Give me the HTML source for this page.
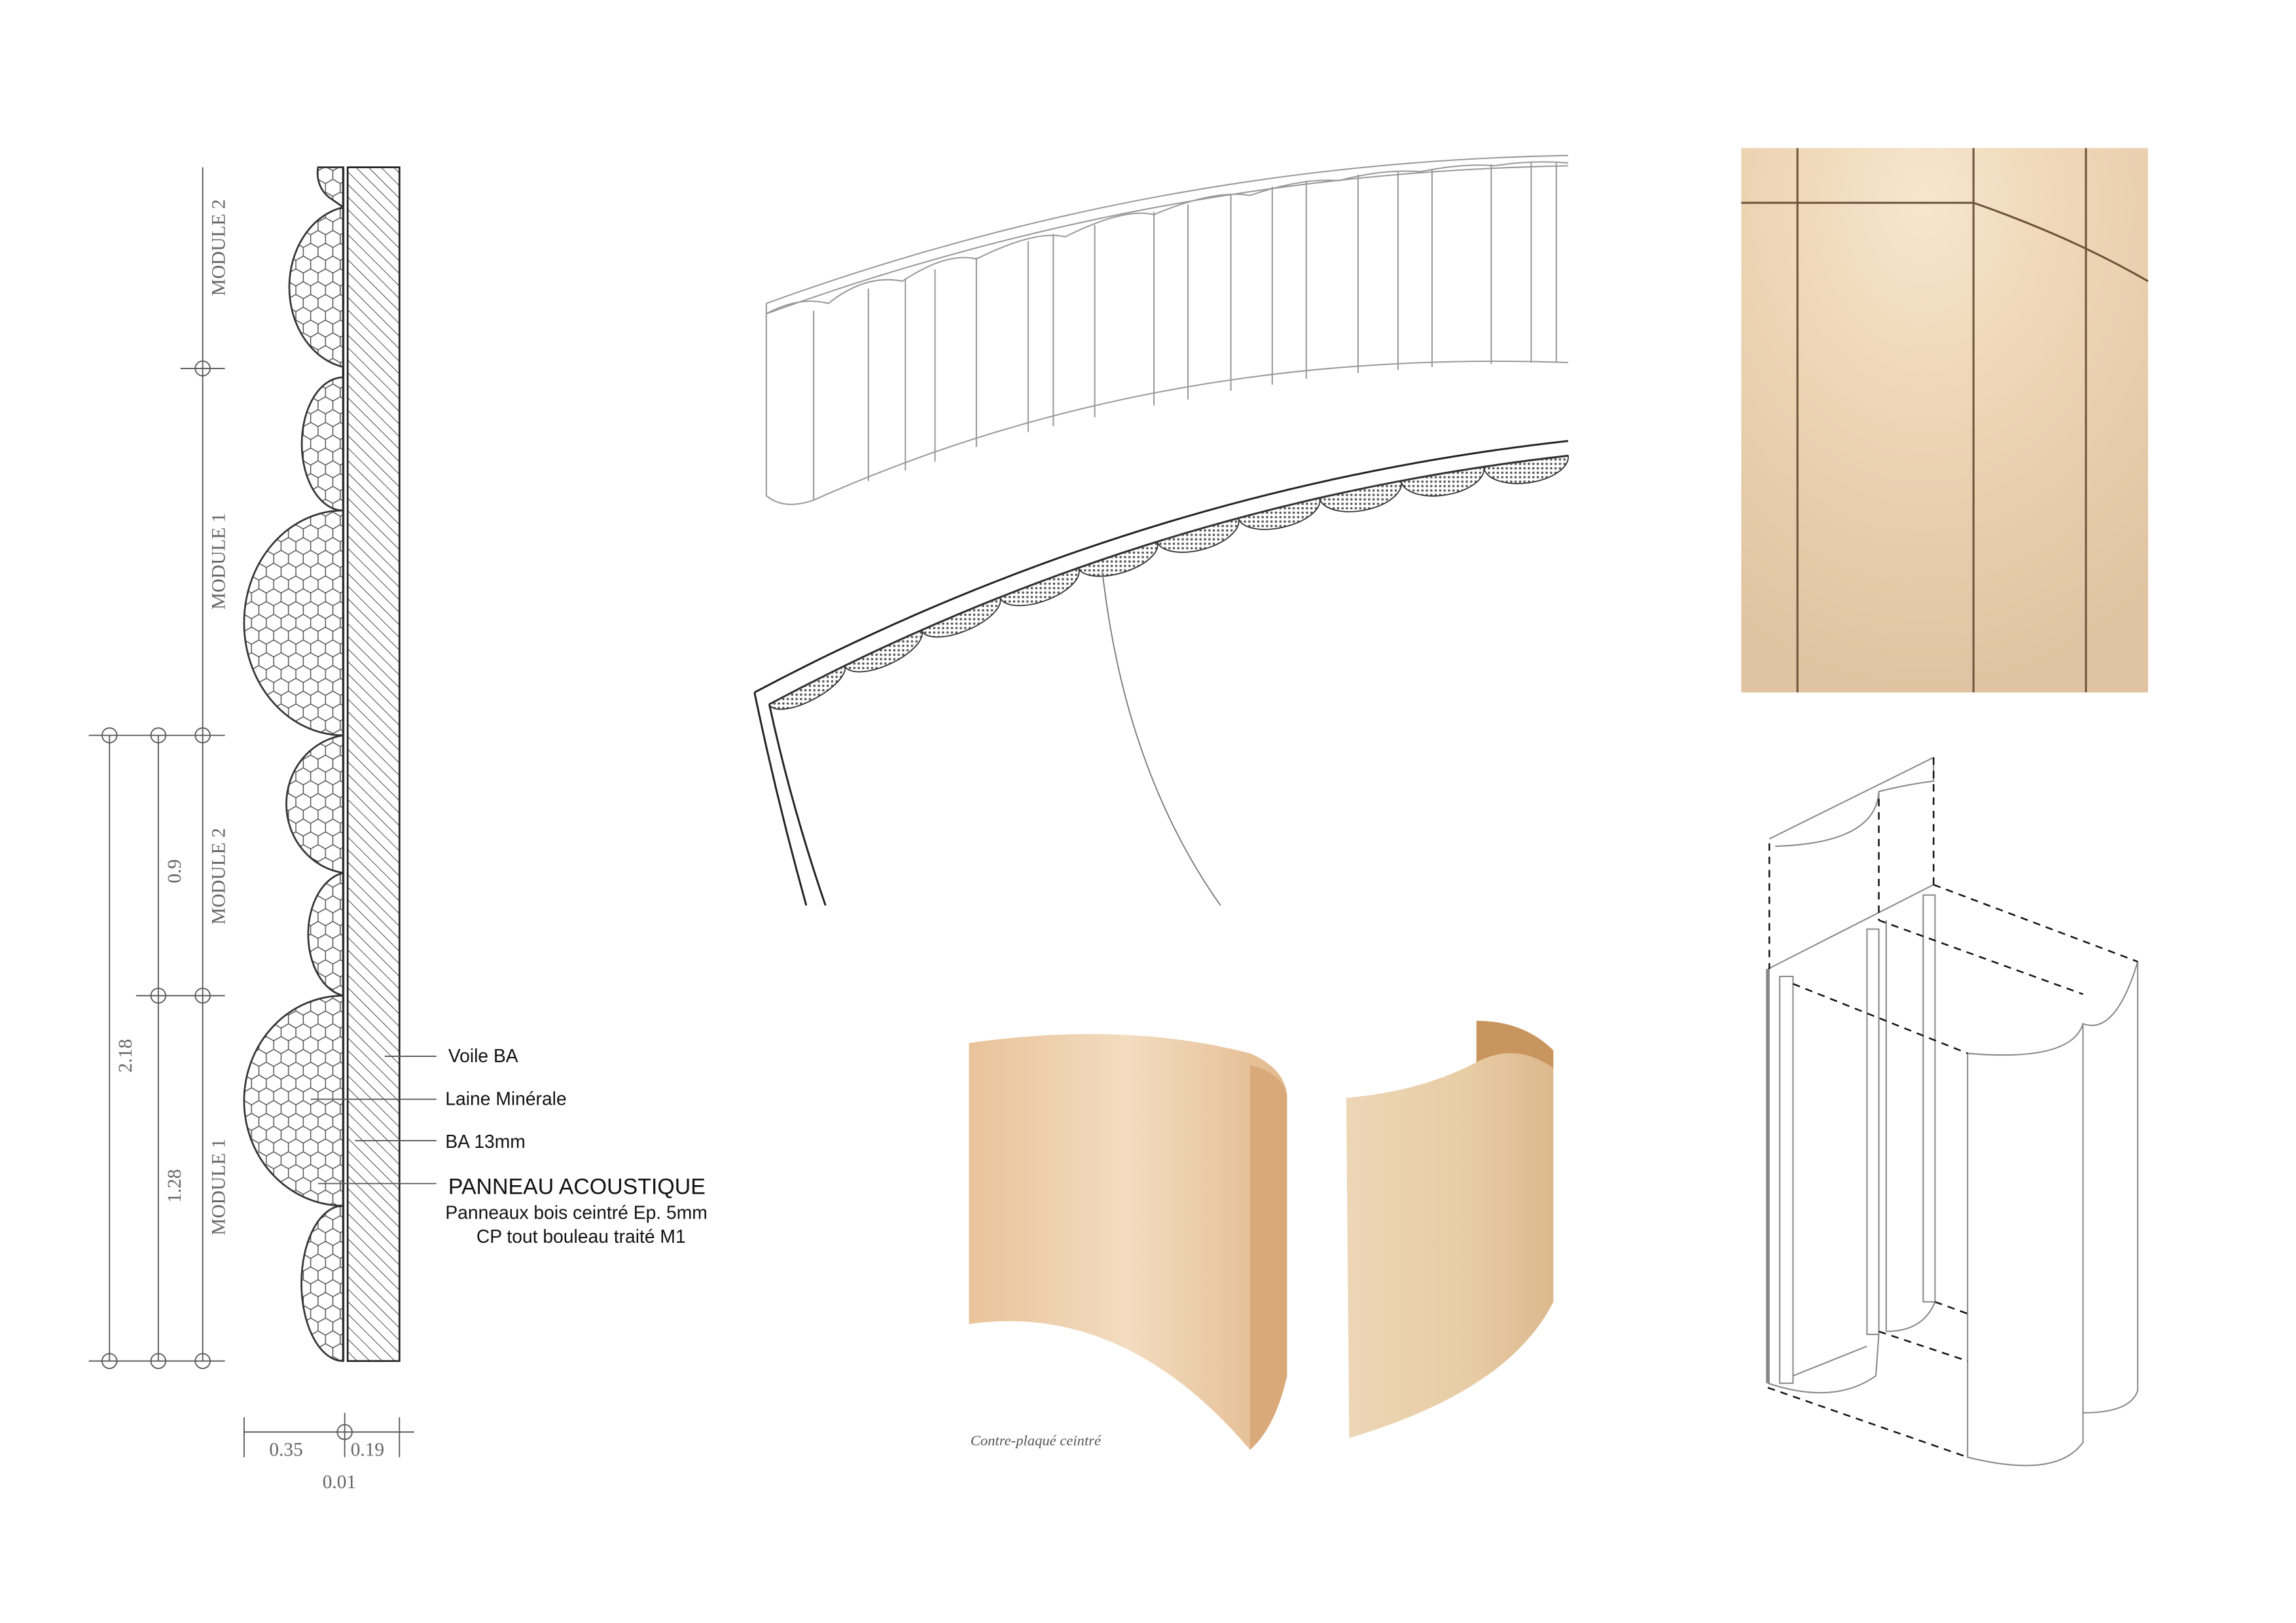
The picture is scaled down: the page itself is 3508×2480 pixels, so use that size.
<!DOCTYPE html>
<html><head><meta charset="utf-8"><style>
html,body{margin:0;padding:0;background:#fff;}
svg{display:block;}
</style></head><body>
<svg width="3508" height="2480" viewBox="0 0 1552 1097" xmlns="http://www.w3.org/2000/svg" font-family="Liberation Sans, sans-serif">
<defs>
<pattern id="hatch" width="6" height="6" patternUnits="userSpaceOnUse" patternTransform="rotate(-45)">
<line x1="0" y1="0" x2="0" y2="6" stroke="#333" stroke-width="0.8"/>
</pattern>
<pattern id="hex" width="10" height="17.3" patternUnits="userSpaceOnUse">
<path d="M5 0 L10 2.9 L10 8.7 L5 11.5 L0 8.7 L0 2.9 Z M5 11.5 L5 17.3" fill="none" stroke="#444" stroke-width="0.6"/>
</pattern>
<pattern id="dots" width="3" height="3" patternUnits="userSpaceOnUse"><circle cx="1.5" cy="1.5" r="0.8" fill="#555"/></pattern>
<linearGradient id="wood1" x1="0" x2="1" y1="0" y2="0">
<stop offset="0" stop-color="#e9c39a"/><stop offset="0.5" stop-color="#f3dcc0"/><stop offset="1" stop-color="#e2b98c"/></linearGradient>
<linearGradient id="wood2" x1="0" x2="1" y1="0" y2="0">
<stop offset="0" stop-color="#ecd6b6"/><stop offset="0.6" stop-color="#e8cca4"/><stop offset="1" stop-color="#dcb88e"/></linearGradient>
<radialGradient id="panel" cx="0.45" cy="0.1" r="0.9">
<stop offset="0" stop-color="#f7e6cc"/><stop offset="0.5" stop-color="#ecd3b2"/><stop offset="1" stop-color="#e0c3a2"/></radialGradient>
</defs>

<!-- LEFT SECTION -->
<rect x="235" y="113" width="35" height="807" fill="url(#hatch)" stroke="#222" stroke-width="1.2"/>
<line x1="232" y1="113" x2="232" y2="920" stroke="#222" stroke-width="1.5"/>
<g fill="url(#hex)" stroke="#333" stroke-width="1.2">
<path d="M232 113 L215 113 A18 20 0 0 0 222 133 L232 140 Z"/>
<path d="M232 140 A45 55 0 0 0 232 248 Z"/>
<path d="M232 255 A28 45 0 0 0 232 345 Z"/>
<path d="M232 345 A67 76 0 0 0 232 497 Z"/>
<path d="M232 497 A45 47 0 0 0 232 590 Z"/>
<path d="M232 590 A28 42 0 0 0 232 673 Z"/>
<path d="M232 673 A67 71 0 0 0 232 815 Z"/>
<path d="M232 815 A28 52 0 0 0 232 920 Z"/>
</g>
<g stroke="#555" stroke-width="0.8" fill="none">
<line x1="137" y1="113" x2="137" y2="920"/>
<line x1="107" y1="497" x2="107" y2="920"/>
<line x1="74" y1="497" x2="74" y2="920"/>
<circle cx="137" cy="249" r="5"/><line x1="122" y1="249" x2="152" y2="249"/>
<circle cx="137" cy="497" r="5"/><line x1="60" y1="497" x2="152" y2="497"/>
<circle cx="107" cy="497" r="5"/><circle cx="74" cy="497" r="5"/>
<circle cx="137" cy="673" r="5"/><circle cx="107" cy="673" r="5"/><line x1="92" y1="673" x2="152" y2="673"/>
<circle cx="137" cy="920" r="5"/><circle cx="107" cy="920" r="5"/><circle cx="74" cy="920" r="5"/><line x1="60" y1="920" x2="152" y2="920"/>
<line x1="165" y1="968" x2="280" y2="968"/>
<line x1="165" y1="958" x2="165" y2="985"/><circle cx="233" cy="968" r="5"/><line x1="233" y1="955" x2="233" y2="985"/><line x1="270" y1="958" x2="270" y2="985"/>
<line x1="260" y1="714" x2="295" y2="714"/><line x1="210" y1="743" x2="295" y2="743"/><line x1="240" y1="771" x2="295" y2="771"/><line x1="215" y1="800" x2="295" y2="800"/>
</g>
<g fill="#666" font-family="Liberation Serif, serif" font-size="13">
<text transform="translate(152,200) rotate(-90)">MODULE 2</text>
<text transform="translate(152,412) rotate(-90)">MODULE 1</text>
<text transform="translate(152,625) rotate(-90)">MODULE 2</text>
<text transform="translate(152,835) rotate(-90)">MODULE 1</text>
<text transform="translate(122,597) rotate(-90)">0.9</text>
<text transform="translate(122,813) rotate(-90)">1.28</text>
<text transform="translate(89,725) rotate(-90)">2.18</text>
<text x="182" y="984">0.35</text><text x="237" y="984">0.19</text><text x="218" y="1006">0.01</text>
</g>
<g fill="#111" font-size="12.5">
<text x="303" y="718">Voile BA</text>
<text x="301" y="747">Laine Minérale</text>
<text x="301" y="776">BA 13mm</text>
<text x="303" y="807" font-size="15">PANNEAU ACOUSTIQUE</text>
<text x="301" y="824">Panneaux bois ceintré Ep. 5mm</text>
<text x="322" y="840">CP tout bouleau traité M1</text>
</g>

<!-- MIDDLE TOP PANEL -->
<g stroke="#999" stroke-width="0.9" fill="none">
<path d="M518 205 Q780 110 1060 105"/>
<path d="M518 212 Q780 117 1060 112"/>
<path d="M518 212 Q540 200 560 205 Q585 185 610 190 Q640 170 660 175 Q700 155 720 160 Q760 140 780 145 Q820 128 845 132 Q880 120 905 122 Q935 114 960 116 Q990 110 1010 112 Q1035 108 1060 110"/>
<path d="M518 205 L518 335 Q530 345 550 338"/>
<path d="M550 338 Q780 235 1060 245"/>
<line x1="550" y1="210" x2="550" y2="338"/><line x1="587" y1="195" x2="587" y2="325"/><line x1="612" y1="188" x2="612" y2="318"/>
<line x1="632" y1="182" x2="632" y2="312"/><line x1="660" y1="174" x2="660" y2="302"/><line x1="695" y1="163" x2="695" y2="292"/>
<line x1="712" y1="158" x2="712" y2="288"/><line x1="740" y1="152" x2="740" y2="282"/><line x1="780" y1="143" x2="780" y2="274"/>
<line x1="803" y1="138" x2="803" y2="270"/><line x1="832" y1="131" x2="832" y2="264"/><line x1="860" y1="126" x2="860" y2="260"/>
<line x1="883" y1="122" x2="883" y2="256"/><line x1="918" y1="118" x2="918" y2="252"/><line x1="945" y1="116" x2="945" y2="250"/>
<line x1="968" y1="114" x2="968" y2="248"/><line x1="1008" y1="111" x2="1008" y2="246"/><line x1="1035" y1="110" x2="1035" y2="245"/><line x1="1052" y1="110" x2="1052" y2="245"/>
</g>

<!-- MIDDLE ARC SECTION -->
<g stroke="#222" stroke-width="1.3" fill="none">
<path d="M510 468 Q770 330 1060 298"/>
<path d="M520 476 Q775 340 1060 308"/>
<path d="M510 468 Q525 540 545 612"/>
<path d="M520 476 Q535 545 558 612"/>
</g>
<path d="M520 476 A27 10 -28 0 0 571 450 A27 11 -25 0 0 623 426 A27 11 -23 0 0 676 404 A27 12 -20 0 0 729 384 A27 12 -17 0 0 782 366 A27 13 -15 0 0 837 350 A28 13 -13 0 0 892 337 A28 14 -11 0 0 947 325 A28 14 -9 0 0 1003 316 A28 14 -8 0 0 1060 308 Q775 340 520 476 Z" fill="url(#dots)" stroke="#333" stroke-width="0.8"/>
<path d="M745 385 Q760 520 825 612" fill="none" stroke="#777" stroke-width="0.8"/>

<!-- PLYWOOD PHOTOS -->
<path d="M655 705 Q760 690 845 712 Q868 722 870 740 L870 930 Q862 965 845 980 Q760 880 655 895 Z" fill="url(#wood1)"/>
<path d="M845 720 Q866 725 870 740 L870 930 Q862 965 845 980 Z" fill="#d9a979"/>
<path d="M910 742 Q960 738 998 718 L998 690 Q1030 690 1050 710 L1050 880 Q1020 940 912 972 Z" fill="url(#wood2)"/>
<path d="M998 690 Q1030 690 1050 710 L1050 722 Q1025 704 998 718 Z" fill="#c9955f"/>
<text x="656" y="977" font-family="Liberation Serif, serif" font-style="italic" font-size="10" fill="#555">Contre-plaqué ceintré</text>

<!-- WOOD PANEL PHOTO -->
<rect x="1177" y="100" width="275" height="368" fill="url(#panel)"/>
<g stroke="#6b5238" stroke-width="1.3" fill="none">
<path d="M1177 137 L1334 137 Q1400 160 1452 190"/>
<line x1="1215" y1="100" x2="1215" y2="468"/>
<line x1="1334" y1="100" x2="1334" y2="468"/>
<line x1="1410" y1="100" x2="1410" y2="468"/>
</g>

<!-- AXONOMETRIC -->
<g stroke="#888" stroke-width="0.9" fill="none">
<path d="M1196 567 L1307 512 L1307 528 Q1290 530 1270 535 Q1268 570 1200 572"/>
<path d="M1270 535 L1270 545"/>
<path d="M1195 655 L1307 598"/>
<path d="M1330 712 Q1400 718 1408 692 Q1430 700 1445 650 L1445 940 Q1440 955 1408 955 L1408 975 Q1390 1000 1330 985 Z"/>
<line x1="1408" y1="692" x2="1408" y2="955"/>
<rect x="1203" y="660" width="9" height="275"/>
<rect x="1262" y="628" width="8" height="274"/>
<rect x="1300" y="605" width="8" height="275"/>
<line x1="1275" y1="622" x2="1275" y2="900"/>
<path d="M1195 935 Q1240 950 1268 930 L1270 902"/>
<path d="M1275 900 Q1300 900 1308 880"/>
<line x1="1212" y1="930" x2="1262" y2="910"/>
</g>
<line x1="1195" y1="655" x2="1195" y2="935" stroke="#888" stroke-width="2.5"/>
<g stroke="#111" stroke-width="1.1" stroke-dasharray="5,4" fill="none">
<line x1="1196" y1="570" x2="1196" y2="655"/>
<line x1="1270" y1="540" x2="1270" y2="622"/>
<line x1="1307" y1="512" x2="1307" y2="598"/>
<line x1="1307" y1="598" x2="1445" y2="650"/>
<line x1="1270" y1="622" x2="1408" y2="672"/>
<line x1="1212" y1="665" x2="1330" y2="712"/>
<line x1="1195" y1="938" x2="1330" y2="985"/>
<line x1="1270" y1="900" x2="1330" y2="920"/>
<line x1="1308" y1="880" x2="1330" y2="888"/>
</g>
</svg>
</body></html>
